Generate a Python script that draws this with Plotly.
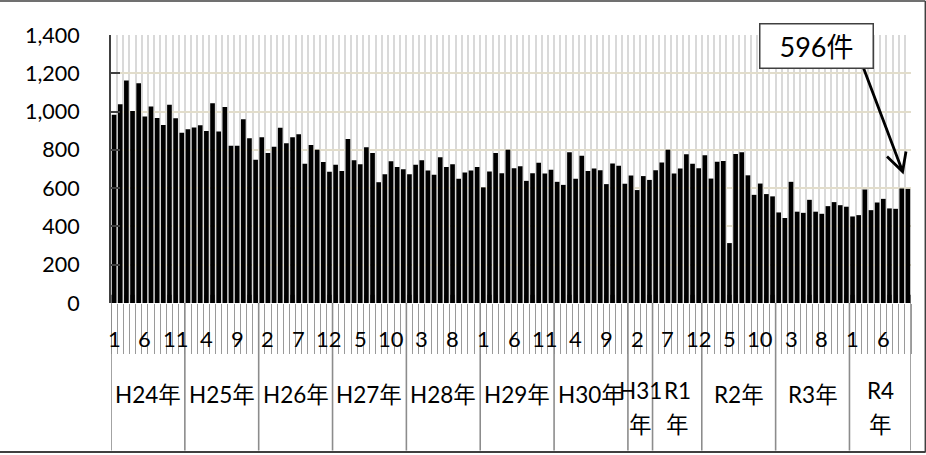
import plotly.graph_objects as go

# ---------------- data ----------------
year_labels = ["H24年", "H25年", "H26年", "H27年", "H28年", "H29年", "H30年",
               "H31<br>年", "R1<br>年", "R2年", "R3年", "R4<br>年"]
year_months = [12, 12, 12, 12, 12, 12, 12, 4, 8, 12, 12, 10]
start_month = [1, 1, 1, 1, 1, 1, 1, 1, 5, 1, 1, 1]

counts_h24 = [983, 1038, 1162, 1003, 1148, 974, 1026, 967, 930, 1035, 965, 889]
counts_h25 = [908, 917, 929, 899, 1043, 896, 1024, 821, 821, 960, 861, 748]
counts_h26 = [866, 783, 816, 915, 835, 866, 882, 727, 826, 800, 736, 685]
counts_h27 = [722, 690, 857, 746, 725, 814, 784, 631, 673, 741, 710, 699]
counts_h28 = [673, 722, 746, 692, 670, 762, 711, 725, 649, 682, 692, 710]
counts_h29 = [604, 687, 784, 678, 800, 704, 715, 638, 678, 732, 677, 696]
counts_h30 = [633, 617, 788, 649, 769, 689, 703, 694, 621, 729, 717, 623]
counts_h31 = [666, 590, 663, 643]
counts_r1 = [694, 734, 800, 677, 702, 777, 727, 704]
counts_r2 = [772, 650, 738, 742, 313, 779, 788, 667, 565, 624, 569, 557]
counts_r3 = [473, 444, 633, 477, 471, 539, 477, 466, 506, 527, 511, 503]
counts_r4 = [452, 459, 593, 485, 525, 544, 494, 492, 598, 596]

y_ticks = [0, 200, 400, 600, 800, 1000, 1200, 1400]
callout_text = "596件"

counts = (counts_h24 + counts_h25 + counts_h26 + counts_h27 + counts_h28 +
          counts_h29 + counts_h30 + counts_h31 + counts_r1 + counts_r2 +
          counts_r3 + counts_r4)
months = []
for n, s in zip(year_months, start_month):
    months += [((s - 1 + k) % 12) + 1 for k in range(n)]
N = len(counts)
xs = list(range(N))

# ---------------- geometry helpers ----------------
W, H = 926, 455
PL, PR, PT, PB = 111, 910.7, 35, 303.3
FONT = "Lato, 'Noto Sans CJK JP', sans-serif"


def px_x(px):
    return (px - PL) / (PR - PL)


def px_y(py):
    return (PB - py) / (PB - PT)


fig = go.Figure()
fig.add_trace(go.Bar(x=xs, y=counts, marker=dict(color="#000000", line=dict(width=0)),
                     hoverinfo="skip"))

shapes = []
# gray band at bottom of plot area
shapes.append(dict(type="rect", xref="paper", yref="paper", x0=0, x1=1, y0=0,
                   y1=px_y(295), fillcolor="#858585", line=dict(width=0), layer="between"))

# year boundary lines
pos = 0
bounds = [-0.5]
for n in year_months:
    pos += n
    bounds.append(pos - 0.5)
for b in bounds:
    shapes.append(dict(type="line", xref="x", yref="paper", x0=b, x1=b, y0=0,
                       y1=px_y(451), line=dict(color="#8c8c8c", width=1.6)))

# outer border (top, right, bottom)
shapes.append(dict(type="line", xref="paper", yref="paper", x0=px_x(0), x1=px_x(925),
                   y0=px_y(1), y1=px_y(1), line=dict(color="#404040", width=1.5)))
shapes.append(dict(type="line", xref="paper", yref="paper", x0=px_x(925), x1=px_x(925),
                   y0=px_y(1), y1=px_y(453), line=dict(color="#404040", width=1.5)))
shapes.append(dict(type="line", xref="paper", yref="paper", x0=px_x(0), x1=px_x(925),
                   y0=px_y(452.5), y1=px_y(452.5), line=dict(color="#404040", width=2)))

# callout arrow
tail = (863.3, 68.3)
tip = (902.3, 171.7)
arm1 = (886.7, 156.7)
arm2 = (905.7, 151.7)
path = (f"M {px_x(tail[0])},{px_y(tail[1])} L {px_x(tip[0])},{px_y(tip[1])} "
        f"M {px_x(arm1[0])},{px_y(arm1[1])} L {px_x(tip[0])},{px_y(tip[1])} "
        f"L {px_x(arm2[0])},{px_y(arm2[1])}")
shapes.append(dict(type="path", xref="paper", yref="paper", path=path,
                   line=dict(color="#000000", width=2.8)))

annotations = []
# month labels every 5th category
for i, m in enumerate(months):
    if i % 5 == 0:
        annotations.append(dict(x=i, xref="x", y=px_y(339), yref="paper", text=str(m),
                                showarrow=False, font=dict(family=FONT, size=22, color="#000"),
                                xanchor="center", yanchor="middle"))
# year labels
pos = 0
for lab, n in zip(year_labels, year_months):
    cx = pos + (n - 1) / 2
    lines = lab.split("<br>")
    if len(lines) == 1:
        ys = [395]
    else:
        ys = [391, 425]
    for t, yy in zip(lines, ys):
        annotations.append(dict(x=cx, xref="x", y=px_y(yy), yref="paper", text=t,
                                showarrow=False, font=dict(family=FONT, size=22.5, color="#000"),
                                xanchor="center", yanchor="middle"))
    pos += n

# callout box
annotations.append(dict(x=px_x(816), y=px_y(45.8), xref="paper", yref="paper",
                        text=callout_text, showarrow=False, width=110, height=41,
                        bgcolor="#ffffff", bordercolor="#404040", borderwidth=1.5, borderpad=1,
                        font=dict(family=FONT, size=27, color="#000"),
                        xanchor="center", yanchor="middle"))

fig.update_layout(
    width=W, height=H, autosize=False,
    margin=dict(l=PL, r=W - PR, t=PT, b=H - PB, pad=0),
    paper_bgcolor="#ffffff", plot_bgcolor="#ffffff",
    showlegend=False, bargap=0.24,
    shapes=shapes, annotations=annotations,
    font=dict(family=FONT, size=21, color="#000"),
    xaxis=dict(range=[-0.5, N - 0.5], tickmode="array",
               tickvals=[k - 0.5 for k in range(N + 1)],
               ticktext=["" for _ in range(N + 1)], showticklabels=False,
               ticks="outside", ticklen=50, tickwidth=1.4, tickcolor="#9a9a9a",
               showgrid=True, gridcolor="#d9d9d9", gridwidth=1.8,
               zeroline=False, showline=False, fixedrange=True),
    yaxis=dict(range=[0, 1400], tickmode="array", tickvals=y_ticks,
               ticktext=[f"{v:,}" for v in y_ticks],
               ticks="inside", ticklen=9, tickwidth=2, tickcolor="#404040",
               showline=True, linecolor="#404040", linewidth=2,
               showgrid=True, gridcolor="#e2ddcb", gridwidth=1.5,
               zeroline=False, ticklabelstandoff=25,
               tickfont=dict(family=FONT, size=21.5, color="#000"), fixedrange=True),
)

fig.write_html("out.html", config={"displayModeBar": False},
               post_script="document.body.style.margin='0';document.body.style.overflow='hidden';")
